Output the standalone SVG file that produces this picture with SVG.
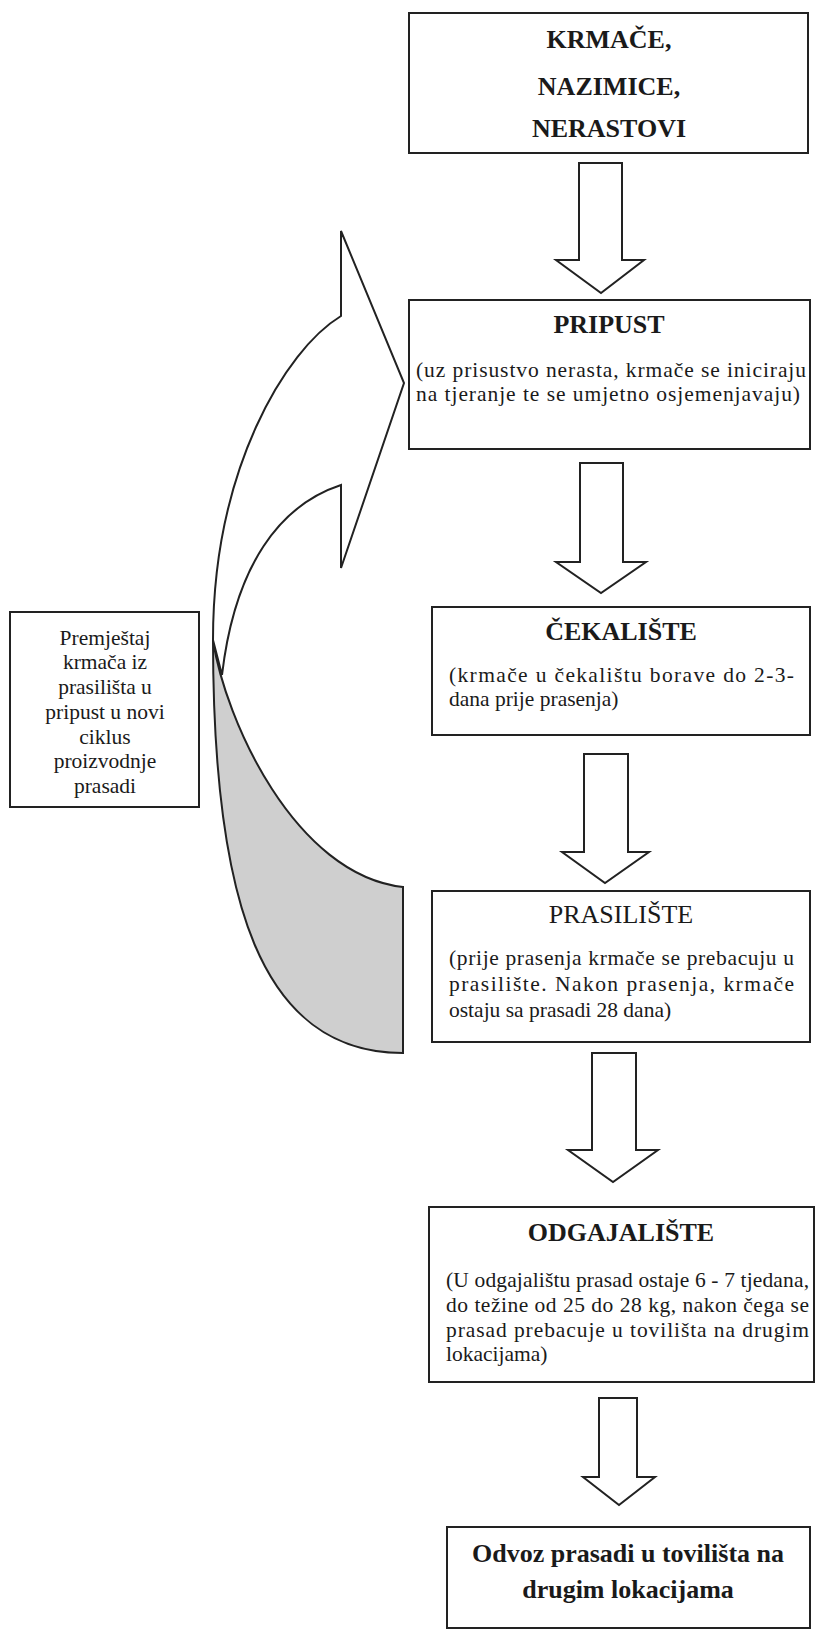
<svg xmlns="http://www.w3.org/2000/svg" width="816" height="1632" viewBox="0 0 816 1632">
<style>
.box{fill:#fff;stroke:#222;stroke-width:2}
.arr{fill:#fff;stroke:#222;stroke-width:2;stroke-linejoin:miter}
.t{font-family:"Liberation Serif","Times New Roman",serif;fill:#1a1a1a}
.h{font-size:26px;font-weight:bold;text-anchor:middle}
.b{font-size:21.5px}
.c{text-anchor:middle}
</style>
<rect width="816" height="1632" fill="#fff"/>
<g id="connectors">
<polygon class="arr" points="579,163 622,163 622,260 644,260 601,293 556,260 579,260"/>
<polygon class="arr" points="580,463 623,463 623,562 646,562 601,593 556,562 580,562"/>
<polygon class="arr" points="584,754 628,754 628,852 649,852 605,883 562,852 584,852"/>
<polygon class="arr" points="592,1053 636,1053 636,1150 658,1150 613,1182 568,1150 592,1150"/>
<polygon class="arr" points="599,1398 637,1398 637,1477 655,1477 619,1505 583,1477 599,1477"/>
<g id="return-arrow">
<path d="M213,640 C213,900 260,1053 403,1053 L403,887 C295,875 225,720 213,640 Z" fill="#cfcfcf" stroke="#222" stroke-width="2"/>
<path d="M341,316 L341,231 L404,383 L341,568 L341,485 C280,505 235,565 222,675 L213,640 C213,470 285,350 341,316 Z" fill="#fff" stroke="#222" stroke-width="2" stroke-linejoin="miter"/>
</g>
</g>
<g id="n-krmace">
<rect class="box" x="409" y="13" width="399" height="140"/>
<text class="t h" x="609" y="48" font-size="27">KRMAČE,</text>
<text class="t h" x="609" y="95" font-size="27">NAZIMICE,</text>
<text class="t h" x="609" y="137" font-size="27">NERASTOVI</text>
</g>
<g id="n-pripust">
<rect class="box" x="409" y="300" width="401" height="149"/>
<text class="t h" x="609" y="333">PRIPUST</text>
<text class="t b" x="416" y="377" font-size="23" textLength="390" lengthAdjust="spacing">(uz prisustvo nerasta, krmače se iniciraju</text>
<text class="t b" x="416" y="401" font-size="23" textLength="384" lengthAdjust="spacing">na tjeranje te se umjetno osjemenjavaju)</text>
</g>
<g id="n-cekaliste">
<rect class="box" x="432" y="607" width="378" height="128"/>
<text class="t h" x="621" y="640">ČEKALIŠTE</text>
<text class="t b" x="449" y="682" textLength="345" lengthAdjust="spacing">(krmače u čekalištu borave do 2-3-</text>
<text class="t b" x="449" y="706">dana prije prasenja)</text>
</g>
<g id="n-prasiliste">
<rect class="box" x="432" y="891" width="378" height="151"/>
<text class="t c" x="621" y="923" font-size="26">PRASILIŠTE</text>
<text class="t b" x="449" y="965" textLength="345" lengthAdjust="spacing">(prije prasenja krmače se prebacuju u</text>
<text class="t b" x="449" y="991" textLength="345" lengthAdjust="spacing">prasilište. Nakon prasenja, krmače</text>
<text class="t b" x="449" y="1017">ostaju sa prasadi 28 dana)</text>
</g>
<g id="n-odgajaliste">
<rect class="box" x="429" y="1207" width="385" height="175"/>
<text class="t h" x="621" y="1241">ODGAJALIŠTE</text>
<text class="t b" x="446" y="1287" textLength="363" lengthAdjust="spacing">(U odgajalištu prasad ostaje 6 - 7 tjedana,</text>
<text class="t b" x="446" y="1312" textLength="363" lengthAdjust="spacing">do težine od 25 do 28 kg, nakon čega se</text>
<text class="t b" x="446" y="1337" textLength="363" lengthAdjust="spacing">prasad prebacuje u tovilišta na drugim</text>
<text class="t b" x="446" y="1361">lokacijama)</text>
</g>
<g id="n-odvoz">
<rect class="box" x="447" y="1527" width="363" height="101"/>
<text class="t h" x="628" y="1562">Odvoz prasadi u tovilišta na</text>
<text class="t h" x="628" y="1598">drugim lokacijama</text>
</g>
<g id="n-premjestaj">
<rect class="box" x="10" y="612" width="189" height="195"/>
<text class="t b c" x="105" y="645">Premještaj</text>
<text class="t b c" x="105" y="669">krmača iz</text>
<text class="t b c" x="105" y="694">prasilišta u</text>
<text class="t b c" x="105" y="719">pripust u novi</text>
<text class="t b c" x="105" y="744">ciklus</text>
<text class="t b c" x="105" y="768">proizvodnje</text>
<text class="t b c" x="105" y="793">prasadi</text>
</g>
</svg>
